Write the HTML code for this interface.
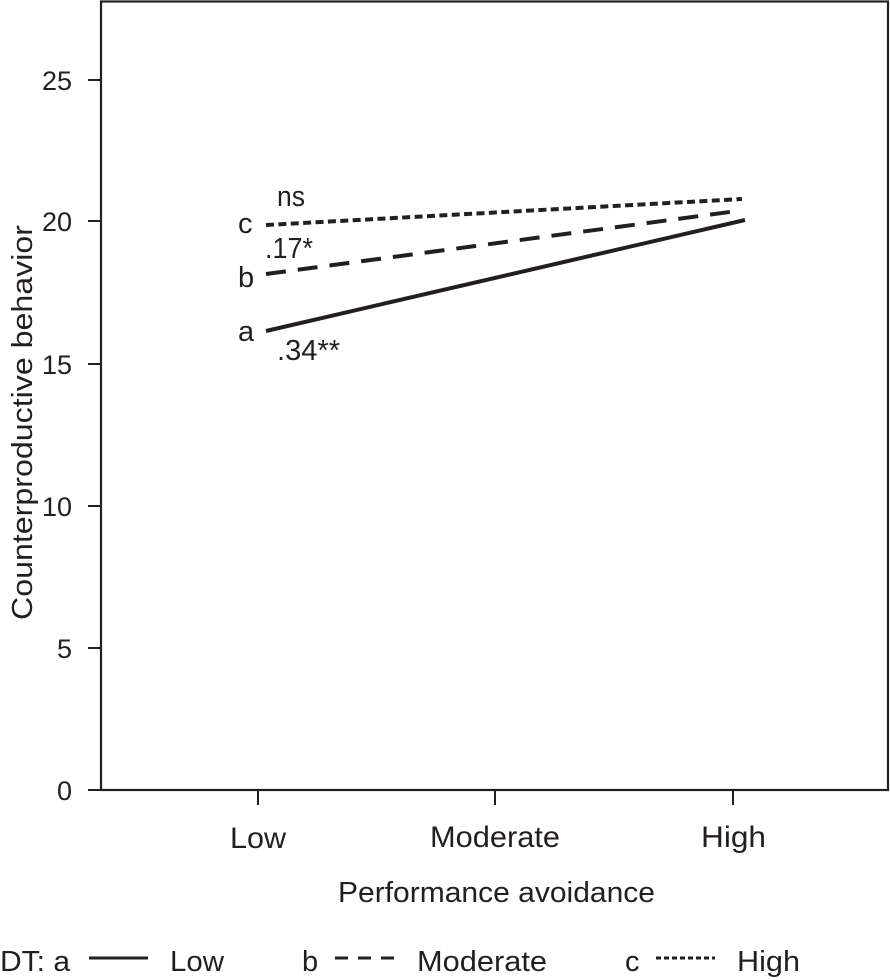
<!DOCTYPE html>
<html>
<head>
<meta charset="utf-8">
<style>
html,body{margin:0;padding:0;background:#fff;}
svg{display:block;}
text{font-family:"Liberation Sans",sans-serif;fill:#231f20;}
</style>
</head>
<body>
<svg width="890" height="980" viewBox="0 0 890 980" xmlns="http://www.w3.org/2000/svg">
  <!-- frame -->
  <rect x="101" y="1.5" width="787" height="788.5" fill="none" stroke="#231f20" stroke-width="2.2"/>
  <!-- y ticks -->
  <g stroke="#231f20" stroke-width="2">
    <line x1="88" y1="790" x2="101" y2="790"/>
    <line x1="88" y1="648" x2="101" y2="648"/>
    <line x1="88" y1="506" x2="101" y2="506"/>
    <line x1="88" y1="364" x2="101" y2="364"/>
    <line x1="88" y1="221" x2="101" y2="221"/>
    <line x1="88" y1="80" x2="101" y2="80"/>
    <!-- x ticks -->
    <line x1="258" y1="790" x2="258" y2="805"/>
    <line x1="495" y1="790" x2="495" y2="805"/>
    <line x1="733" y1="790" x2="733" y2="805"/>
  </g>
  <!-- y tick labels -->
  <g font-size="27" text-anchor="end">
    <text x="72" y="800">0</text>
    <text x="72" y="658">5</text>
    <text x="72" y="516">10</text>
    <text x="72" y="374">15</text>
    <text x="72" y="231">20</text>
    <text x="72" y="90">25</text>
  </g>
  <!-- x tick labels -->
  <g font-size="30">
    <text x="230" y="848" textLength="56" lengthAdjust="spacingAndGlyphs">Low</text>
    <text x="430" y="847" textLength="130" lengthAdjust="spacingAndGlyphs">Moderate</text>
    <text x="701" y="847" textLength="65" lengthAdjust="spacingAndGlyphs">High</text>
  </g>
  <!-- axis titles -->
  <text x="338" y="902" font-size="29" textLength="317" lengthAdjust="spacingAndGlyphs">Performance avoidance</text>
  <text transform="translate(32,620) rotate(-90)" x="0" y="0" font-size="29" textLength="395" lengthAdjust="spacingAndGlyphs">Counterproductive behavior</text>

  <!-- series -->
  <line x1="266" y1="331" x2="745" y2="220" stroke="#231f20" stroke-width="4"/>
  <line x1="266" y1="274" x2="737" y2="211" stroke="#231f20" stroke-width="4" stroke-dasharray="20 12"/>
  <line x1="266" y1="225" x2="742" y2="199" stroke="#231f20" stroke-width="4" stroke-dasharray="8 4.4"/>

  <!-- line labels -->
  <g font-size="29">
    <text x="277" y="206" textLength="28" lengthAdjust="spacingAndGlyphs">ns</text>
    <text x="238" y="233">c</text>
    <text x="265" y="258" textLength="48" lengthAdjust="spacingAndGlyphs">.17*</text>
    <text x="238" y="287">b</text>
    <text x="238" y="341">a</text>
    <text x="277" y="360" textLength="63" lengthAdjust="spacingAndGlyphs">.34**</text>
  </g>

  <!-- legend -->
  <g font-size="29">
    <text x="0" y="971" textLength="70" lengthAdjust="spacingAndGlyphs">DT: a</text>
    <text x="170" y="971" textLength="54" lengthAdjust="spacingAndGlyphs">Low</text>
    <text x="302" y="971">b</text>
    <text x="417" y="971" textLength="130" lengthAdjust="spacingAndGlyphs">Moderate</text>
    <text x="625" y="971">c</text>
    <text x="737" y="971" textLength="63" lengthAdjust="spacingAndGlyphs">High</text>
  </g>
  <line x1="89" y1="958" x2="148" y2="958" stroke="#231f20" stroke-width="3"/>
  <line x1="335" y1="958" x2="395" y2="958" stroke="#231f20" stroke-width="3" stroke-dasharray="13 10"/>
  <line x1="656" y1="958" x2="715" y2="958" stroke="#231f20" stroke-width="3" stroke-dasharray="5 3"/>
</svg>
</body>
</html>
